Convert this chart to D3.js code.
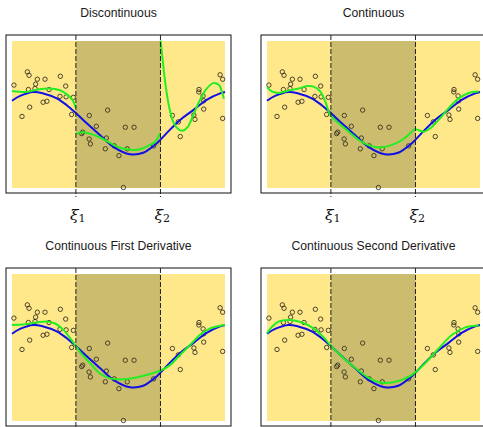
<!DOCTYPE html>
<html>
<head>
<meta charset="utf-8">
<script src="https://cdn.jsdelivr.net/npm/d3@7"></script>
<style>
  html, body { margin: 0; padding: 0; background: #fff; }
  svg { display: block; }
</style>
</head>
<body>
<svg id="chart" width="483" height="427"></svg>
<script>
// ---------------- data ----------------
const panelTitles = ["Discontinuous", "Continuous", "Continuous First Derivative", "Continuous Second Derivative"];
const knots = [0.30, 0.697];
const knotLabels = ["1", "2"];

const pointX = [0.009,0.072,0.080,0.119,0.155,0.111,0.108,0.077,0.174,0.227,0.252,0.225,0.254,0.288,0.164,0.146,0.083,0.047,
  0.280,0.363,0.449,0.396,0.332,0.327,0.362,0.368,0.443,0.438,0.480,0.502,0.532,0.573,0.541,0.523,0.665,
  0.753,0.781,0.790,0.854,0.859,0.878,0.877,0.897,0.900,0.900,0.977,0.989,0.989];
const pointY = [0.60,0.87,0.80,0.72,0.72,0.62,0.53,0.51,0.51,0.78,0.58,0.37,0.36,0.35,0.27,0.25,0.15,-0.04,
  0.00,-0.02,0.09,-0.24,-0.36,-0.39,-0.50,-0.60,-0.48,-0.70,-0.64,-0.84,-0.26,-0.26,-0.70,-1.49,-0.64,
  -0.02,-0.15,-0.45,-0.01,-0.10,0.51,0.46,0.38,0.28,0.11,0.81,0.72,-0.08];

// true function (blue)
const trueCurve = [[0,0.28],[0.038,0.38],[0.1,0.46],[0.147,0.43],[0.21,0.33],[0.257,0.19],[0.302,0.02],[0.351,-0.18],
  [0.413,-0.42],[0.476,-0.66],[0.554,-0.81],[0.616,-0.78],[0.679,-0.59],[0.726,-0.38],[0.789,-0.11],[0.851,0.09],
  [0.914,0.30],[0.977,0.43],[1,0.46]];

// fitted curves (green)
const fitDiscLeft = [[0,0.48],[0.066,0.46],[0.121,0.51],[0.175,0.53],[0.222,0.50],[0.261,0.40],[0.285,0.29],[0.300,0.13]];
const fitDiscMid = [[0.300,-0.40],[0.329,-0.36],[0.366,-0.39],[0.413,-0.47],[0.460,-0.58],[0.507,-0.68],[0.554,-0.72],
  [0.601,-0.71],[0.648,-0.62],[0.671,-0.56],[0.696,-0.38]];
const fitDiscRight = [[0.698,1.51],[0.709,1.04],[0.722,0.57],[0.737,0.17],[0.757,-0.15],[0.781,-0.30],[0.800,-0.33],
  [0.824,-0.26],[0.851,-0.01],[0.883,0.30],[0.914,0.53],[0.945,0.64],[0.972,0.60],[0.985,0.47],[0.995,0.32]];
const fitContinuous = [[0,0.56],[0.023,0.47],[0.055,0.44],[0.102,0.49],[0.149,0.53],[0.188,0.58],[0.219,0.57],[0.250,0.47],
  [0.274,0.26],[0.297,-0.01],[0.337,-0.18],[0.384,-0.35],[0.431,-0.52],[0.485,-0.64],[0.540,-0.67],[0.587,-0.62],
  [0.634,-0.52],[0.673,-0.38],[0.695,-0.30],[0.712,-0.32],[0.736,-0.35],[0.767,-0.28],[0.806,-0.11],[0.853,0.13],
  [0.900,0.33],[0.947,0.44],[0.994,0.47]];
const fitFirstDeriv = [[0,0.46],[0.053,0.47],[0.116,0.51],[0.163,0.53],[0.202,0.49],[0.241,0.36],[0.280,0.15],[0.319,-0.09],
  [0.366,-0.32],[0.413,-0.53],[0.460,-0.63],[0.523,-0.65],[0.585,-0.61],[0.648,-0.54],[0.698,-0.47],[0.742,-0.36],
  [0.789,-0.15],[0.836,0.05],[0.883,0.26],[0.930,0.39],[1,0.46]];
const fitSecondDeriv = [[0,0.29],[0.023,0.42],[0.055,0.53],[0.109,0.56],[0.164,0.51],[0.219,0.39],[0.274,0.17],[0.297,0.05],
  [0.352,-0.19],[0.415,-0.42],[0.477,-0.62],[0.540,-0.72],[0.602,-0.70],[0.665,-0.60],[0.695,-0.51],[0.743,-0.32],
  [0.806,-0.02],[0.869,0.26],[0.931,0.41],[0.994,0.45]];

const fitsByPanel = [[fitDiscLeft, fitDiscMid, fitDiscRight], [fitContinuous], [fitFirstDeriv], [fitSecondDeriv]];

// ---------------- layout ----------------
const svg = d3.select("#chart");
const frameW = 225, frameH = 158;
const origins = [[6, 35], [261, 35], [6, 268], [261, 268]];
const showKnotLabels = [true, true, false, false];
const x = d3.scaleLinear().domain([0, 1]).range([6, 219]);
const y = d3.scaleLinear().domain([-1.5, 1.5]).range([153, 6]);
const line = d3.line().x(d => x(d[0])).y(d => y(d[1])).curve(d3.curveCatmullRom.alpha(0.5));

const yellow = "#FEE88A", tan = "#CCBD6E";

origins.forEach((o, i) => {
  const g = svg.append("g").attr("transform", `translate(${o[0]},${o[1]})`);
  const clipId = "clip" + i;
  g.append("clipPath").attr("id", clipId)
    .append("rect").attr("x", 0).attr("y", 0).attr("width", frameW).attr("height", frameH);

  // title
  g.append("text").attr("x", frameW / 2).attr("y", -18)
    .attr("text-anchor", "middle")
    .attr("font-family", "Liberation Sans, Arial, sans-serif")
    .attr("font-size", 12.2).attr("fill", "#1a1a1a")
    .text(panelTitles[i]);

  // backgrounds
  g.append("rect").attr("x", x(0)).attr("y", y(1.5))
    .attr("width", x(1) - x(0)).attr("height", y(-1.5) - y(1.5)).attr("fill", yellow);
  g.append("rect").attr("x", x(knots[0])).attr("y", y(1.5))
    .attr("width", x(knots[1]) - x(knots[0])).attr("height", y(-1.5) - y(1.5)).attr("fill", tan);

  const inner = g.append("g").attr("clip-path", `url(#${clipId})`);

  // points
  inner.selectAll("circle").data(pointX.map((v, k) => [v, pointY[k]])).enter()
    .append("circle")
    .attr("cx", d => x(d[0])).attr("cy", d => y(d[1])).attr("r", 2.2)
    .attr("fill", "none").attr("stroke", "#3a3320").attr("stroke-width", 0.9);

  // true curve
  inner.append("path").attr("d", line(trueCurve))
    .attr("fill", "none").attr("stroke", "#1010e6").attr("stroke-width", 2);

  // fitted
  fitsByPanel[i].forEach(seg => {
    inner.append("path").attr("d", line(seg))
      .attr("fill", "none").attr("stroke", "#22ee22").attr("stroke-width", 2);
  });

  // frame
  g.append("rect").attr("x", 0).attr("y", 0).attr("width", frameW).attr("height", frameH)
    .attr("fill", "none").attr("stroke", "#111").attr("stroke-width", 1);

  // knot lines
  knots.forEach((k, j) => {
    g.append("line").attr("x1", x(k)).attr("x2", x(k)).attr("y1", 0).attr("y2", frameH + 4)
      .attr("stroke", "#222").attr("stroke-width", 1).attr("stroke-dasharray", "5,2");
    if (showKnotLabels[i]) {
      const t = g.append("text").attr("x", x(k) - 6).attr("y", frameH + 27)
        .attr("font-family", "DejaVu Serif, serif").attr("font-style", "italic")
        .attr("font-size", 15.5).attr("fill", "#111");
      t.append("tspan").text("ξ");
      t.append("tspan").attr("font-style", "normal").attr("font-size", 11).attr("dy", 2).text(knotLabels[j]);
    }
  });
});
</script>
</body>
</html>
